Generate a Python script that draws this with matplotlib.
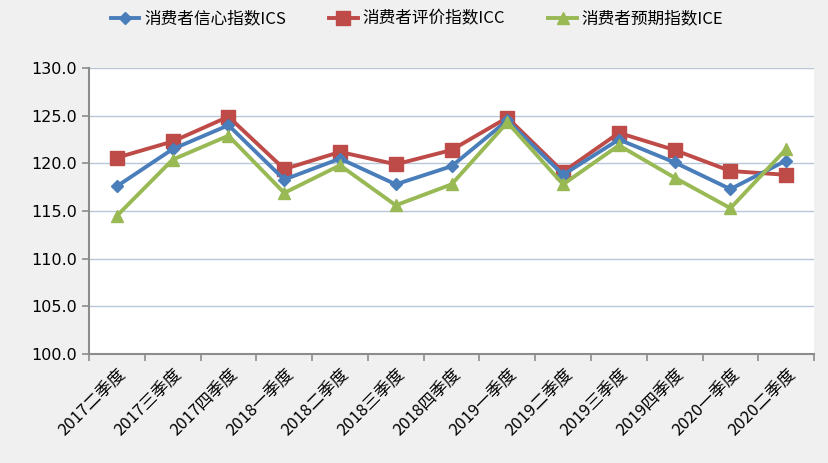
import numpy as np
import matplotlib.pyplot as plt
from matplotlib.ticker import FixedLocator

plt.rcParams['font.family'] = ['Noto Sans CJK SC', 'DejaVu Sans']

# 季度
quarters = ['2017二季度', '2017三季度', '2017四季度', '2018一季度', '2018二季度',
            '2018三季度', '2018四季度', '2019一季度', '2019二季度', '2019三季度',
            '2019四季度', '2020一季度', '2020二季度']

# 三个指数
ics = [117.6, 121.5, 124.0, 118.3, 120.5, 117.8, 119.7, 124.5, 118.8, 122.5, 120.1, 117.3, 120.3]
icc = [120.6, 122.3, 124.9, 119.4, 121.2, 119.9, 121.4, 124.8, 119.1, 123.2, 121.4, 119.2, 118.8]
ice = [114.5, 120.4, 122.9, 116.9, 119.8, 115.6, 117.8, 124.3, 117.8, 121.9, 118.5, 115.3, 121.5]

bg = '#f0f0f0'
fig = plt.figure(figsize=(8.29, 4.63), dpi=100, facecolor=bg)
ax = fig.add_axes([0.1074, 0.2354, 0.8746, 0.6176])
ax.set_facecolor('white')

x = np.arange(len(quarters))
ax.plot(x, ics, color='#4a7ebb', lw=2.8, marker='D', ms=6.5, label='消费者信心指数ICS', zorder=3)
ax.plot(x, icc, color='#be4b48', lw=2.8, marker='s', ms=9.5, label='消费者评价指数ICC', zorder=2)
ax.plot(x, ice, color='#98b954', lw=2.8, marker='^', ms=9, label='消费者预期指数ICE', zorder=4)

ax.set_xlim(-0.5, len(quarters) - 0.5)
ax.set_ylim(100, 130)
ax.set_yticks(np.arange(100, 131, 5))
ax.set_yticklabels([f'{v:.1f}' for v in np.arange(100, 131, 5)], fontsize=11.5, family='DejaVu Sans')
ax.grid(axis='y', color='#b8c8da', lw=1)
ax.set_axisbelow(True)

ax.set_xticks(x)
ax.set_xticklabels(quarters, rotation=45, ha='right', rotation_mode='anchor', fontsize=12)
ax.tick_params(axis='x', which='major', length=0, pad=8)
ax.xaxis.set_minor_locator(FixedLocator(np.arange(-0.5, len(quarters), 1)))
ax.tick_params(axis='x', which='minor', length=5, color='#8c8c8c', width=1.2)
ax.tick_params(axis='y', length=5, color='#8c8c8c', width=1.2)

for s in ['top', 'right']:
    ax.spines[s].set_visible(False)
for s in ['left', 'bottom']:
    ax.spines[s].set_color('#8c8c8c')
    ax.spines[s].set_linewidth(1.5)

fig.legend(loc='upper center', bbox_to_anchor=(0.503, 1.01), ncol=3, frameon=False,
           fontsize=12, handlelength=1.7, columnspacing=2.6, handletextpad=0.3)

fig.savefig('out.png', dpi=100, facecolor=bg)
